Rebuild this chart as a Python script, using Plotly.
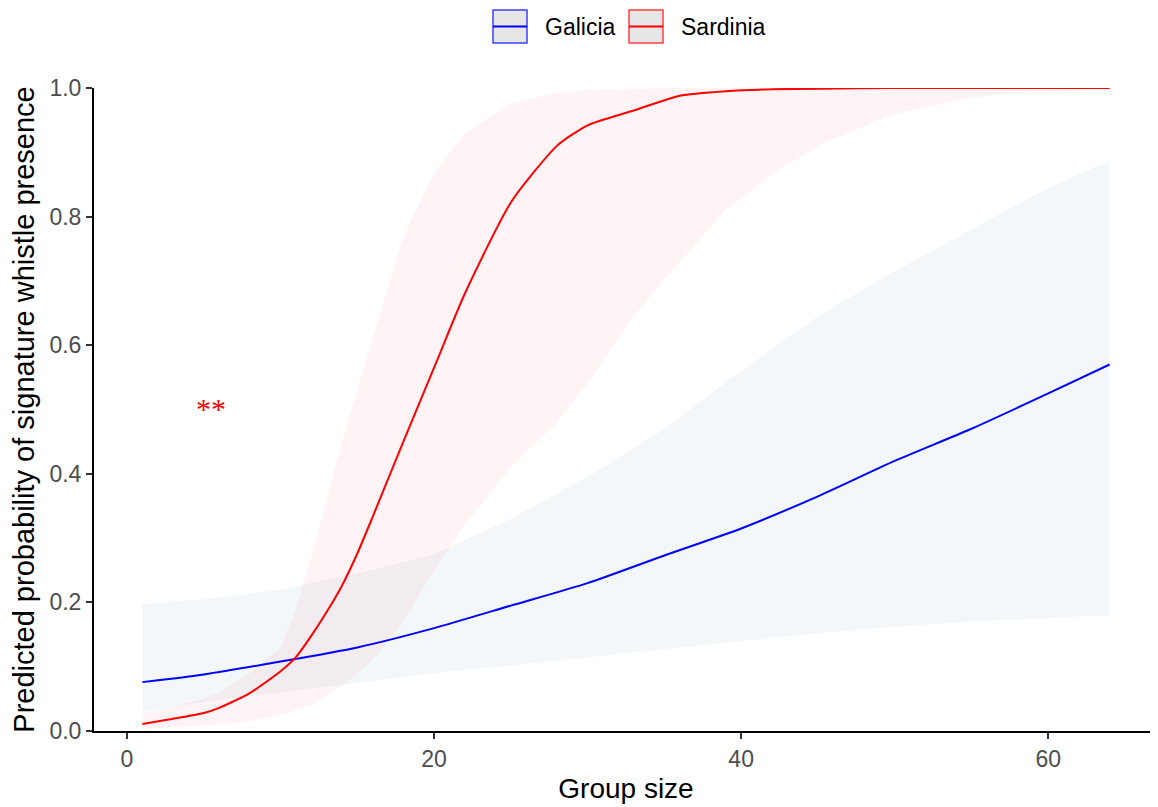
import plotly.graph_objects as go

# ---- data ----
gal_x = [1, 5, 10, 15, 20, 25, 30, 35, 40, 45, 50, 55, 60, 64]
gal_fit = [0.076, 0.088, 0.108, 0.130, 0.160, 0.195, 0.230, 0.273, 0.315, 0.365, 0.420, 0.470, 0.525, 0.570]
gal_upper = [0.198, 0.205, 0.220, 0.245, 0.275, 0.330, 0.395, 0.470, 0.560, 0.645, 0.715, 0.780, 0.845, 0.887]
gal_lower = [0.030, 0.045, 0.060, 0.075, 0.090, 0.102, 0.115, 0.128, 0.140, 0.152, 0.162, 0.170, 0.176, 0.180]

sar_x = [1, 3, 5, 6, 8, 10, 11, 12, 13, 14, 15, 16, 18, 20, 22, 25, 28, 30, 33, 36, 39, 42, 45, 50, 55, 58, 64]
sar_fit = [0.011, 0.019, 0.028, 0.036, 0.059, 0.093, 0.115, 0.148, 0.185, 0.226, 0.276, 0.333, 0.450, 0.565, 0.680, 0.822, 0.910, 0.942, 0.965, 0.988, 0.995, 0.998, 0.999, 1.0, 1.0, 1.0, 1.0]
sar_upper = [0.028, 0.038, 0.050, 0.060, 0.090, 0.130, 0.190, 0.270, 0.360, 0.450, 0.530, 0.610, 0.770, 0.868, 0.930, 0.976, 0.993, 0.997, 0.999, 1.0, 1.0, 1.0, 1.0, 1.0, 1.0, 1.0, 1.0]
sar_lower = [0.003, 0.005, 0.008, 0.010, 0.015, 0.025, 0.032, 0.040, 0.055, 0.070, 0.090, 0.110, 0.170, 0.250, 0.320, 0.410, 0.480, 0.540, 0.645, 0.730, 0.810, 0.865, 0.910, 0.960, 0.985, 0.993, 0.998]

series_names = ["Galicia", "Sardinia"]
line_colors = ["#0000FF", "#FF0000"]
band_colors = ["rgba(70,130,180,0.065)", "rgba(235,90,110,0.065)"]

x_ticks = [0, 20, 40, 60]
y_ticks = [0.0, 0.2, 0.4, 0.6, 0.8, 1.0]
y_tick_text = ["0.0", "0.2", "0.4", "0.6", "0.8", "1.0"]

sig_label = "**"
sig_x, sig_y = 5.5, 0.501

fig = go.Figure()

bands = [(gal_x, gal_lower, gal_upper), (sar_x, sar_lower, sar_upper)]
for (bx, lo, up), fc in zip(bands, band_colors):
    fig.add_trace(go.Scatter(x=bx, y=lo, mode="lines", line=dict(width=0),
                             showlegend=False, hoverinfo="skip"))
    fig.add_trace(go.Scatter(x=bx, y=up, mode="lines", line=dict(width=0),
                             fill="tonexty", fillcolor=fc,
                             showlegend=False, hoverinfo="skip"))

fits = [(gal_x, gal_fit), (sar_x, sar_fit)]
for (fx, fy), lc, nm in zip(fits, line_colors, series_names):
    fig.add_trace(go.Scatter(x=fx, y=fy, mode="lines", name=nm,
                             line=dict(color=lc, width=2, shape="spline", smoothing=0.6),
                             showlegend=False))

fig.add_annotation(x=sig_x, y=sig_y, text=sig_label, showarrow=False,
                   font=dict(family="Liberation Serif", size=30, color="#FF0000"),
                   xanchor="center", yanchor="middle")

# ---- page offset (body margin 8px) and plot-area geometry ----
OFF = 8
FW, FH = 1158 - OFF, 807 - OFF
L, T, B, R = 94 - OFF, 88 - OFF, 807 - 731, 0
W, H = FW - L - R, FH - T - B

def px(xp):
    return (xp - OFF - L) / W

def py(yp):
    return (FH - B - (yp - OFF)) / H

legend_keys = [(493, 527, 543), (629, 663, 679)]
for (x0, x1, tx), lc, nm in zip(legend_keys, line_colors, series_names):
    fig.add_shape(type="rect", xref="paper", yref="paper",
                  x0=px(x0), x1=px(x1), y0=py(43), y1=py(10),
                  fillcolor="#DEDEDE", line=dict(color=lc, width=1.5), opacity=0.75)
    fig.add_shape(type="line", xref="paper", yref="paper",
                  x0=px(x0), x1=px(x1), y0=py(26.5), y1=py(26.5),
                  line=dict(color=lc, width=2))
    fig.add_annotation(xref="paper", yref="paper", x=px(tx), y=py(27),
                       text=nm, showarrow=False, xanchor="left", yanchor="middle",
                       font=dict(family="Liberation Sans", size=23, color="#000000"))

fig.update_layout(
    width=FW, height=FH,
    margin=dict(l=L, r=R, t=T, b=B),
    paper_bgcolor="white", plot_bgcolor="white",
    font=dict(family="Liberation Sans"),
    showlegend=False,
)
fig.update_xaxes(range=[-2.15, 67.15], tickvals=x_ticks,
                 showgrid=False, zeroline=False,
                 showline=True, linecolor="black", linewidth=2,
                 ticks="outside", ticklen=6, tickwidth=2, tickcolor="#333333",
                 tickfont=dict(size=23, color="#4D4D4D"),
                 title=dict(text="Group size", font=dict(size=28, color="black"), standoff=8))
fig.update_yaxes(range=[0, 1], tickvals=y_ticks, ticktext=y_tick_text,
                 showgrid=False, zeroline=False,
                 showline=True, linecolor="black", linewidth=2,
                 ticks="outside", ticklen=6, tickwidth=2, tickcolor="#333333",
                 tickfont=dict(size=23, color="#4D4D4D"),
                 title=dict(text="Predicted probability of signature whistle presence",
                            font=dict(size=29, color="black"), standoff=6))

fig.write_html("out.html")
